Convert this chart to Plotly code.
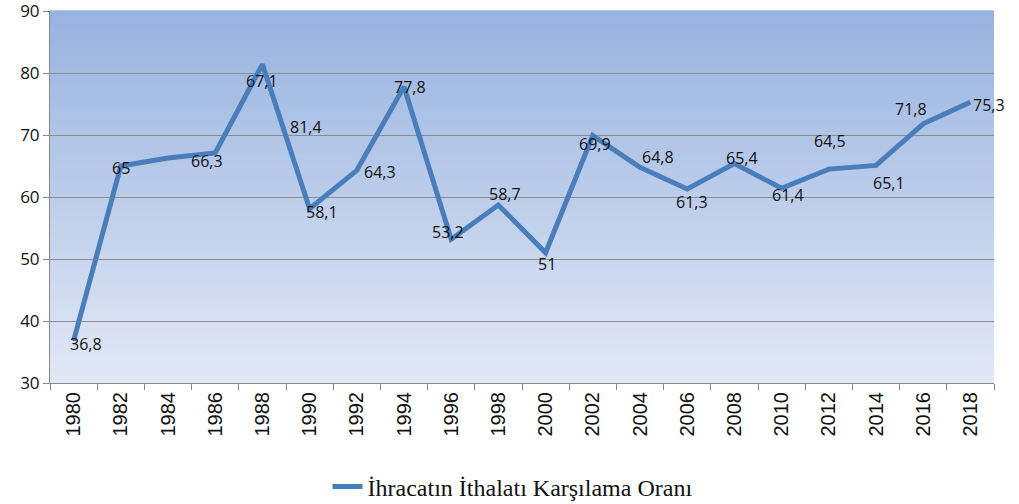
import plotly.graph_objects as go

years = [str(y) for y in range(1980, 2020, 2)]
values = [36.8, 65, 66.3, 67.1, 81.4, 58.1, 64.3, 77.8, 53.2, 58.7,
          51, 69.9, 64.8, 61.3, 65.4, 61.4, 64.5, 65.1, 71.8, 75.3]
labels = [f"{v:g}".replace(".", ",") for v in values]
series_name = "İhracatın İthalatı Karşılama Oranı"

# label pixel offsets (styling)
label_shift = [(12, -3), (0, -2), (39, -3), (47, 72), (44, -63), (12, -3),
               (23, -2), (6, 0), (-3, 7), (7, 11), (1, -11), (2, -8),
               (18, 10), (5, -13), (8, 6), (6, -7), (1, 28), (13, -18),
               (-12, 15), (19, -3)]

fig = go.Figure()
fig.add_trace(go.Scatter(
    x=years, y=values, mode="lines", name=series_name,
    line=dict(color="#4A7EBB", width=5),
))

annotations = []
for i, (y, t, (dx, dy)) in enumerate(zip(values, labels, label_shift)):
    annotations.append(dict(x=i, y=y, text=t, showarrow=False,
                            xanchor="center", yanchor="middle",
                            xshift=dx, yshift=dy,
                            font=dict(family="Open Sans", size=16, color="#111")))

# vertical gradient background
shapes = []
n = 80
top = (0x97, 0xB3, 0xE0)
bot = (0xE2, 0xE8, 0xF5)
for i in range(n):
    f = i / (n - 1)
    c = tuple(round(bot[k] + (top[k] - bot[k]) * f) for k in range(3))
    shapes.append(dict(type="rect", xref="paper", yref="paper",
                       x0=0, x1=1, y0=i / n, y1=(i + 1) / n + 0.002,
                       fillcolor="rgb(%d,%d,%d)" % c, line=dict(width=0),
                       layer="below"))

fig.update_layout(
    width=1019, height=504,
    margin=dict(l=50, r=25, t=11, b=121, autoexpand=False),
    paper_bgcolor="white", plot_bgcolor="rgba(0,0,0,0)",
    shapes=shapes, annotations=annotations,
    showlegend=True,
    legend=dict(orientation="h", x=0.49, xanchor="center", y=-0.279, yanchor="middle",
                font=dict(family="Liberation Serif", size=24, color="#111"),
                bgcolor="rgba(0,0,0,0)"),
    xaxis=dict(type="category", tickangle=-90, tickson="boundaries",
               ticks="outside", ticklen=6, tickcolor="#888",
               showline=True, linecolor="#888", linewidth=1,
               showgrid=False, range=[-0.5, 19.5], automargin=False,
               tickfont=dict(family="Liberation Sans", size=20, color="#111")),
    yaxis=dict(range=[30, 90], dtick=10, ticks="outside", ticklen=6, tickcolor="#888",
               showline=True, linecolor="#888", linewidth=1, automargin=False,
               ticklabeloverflow="allow",
               showgrid=True, gridcolor="#8C8C8C", gridwidth=1, zeroline=False,
               tickfont=dict(family="Open Sans", size=17, color="#111")),
)

fig.write_html("out.html", config={"displayModeBar": False},
               post_script="document.body.style.margin='0';")
